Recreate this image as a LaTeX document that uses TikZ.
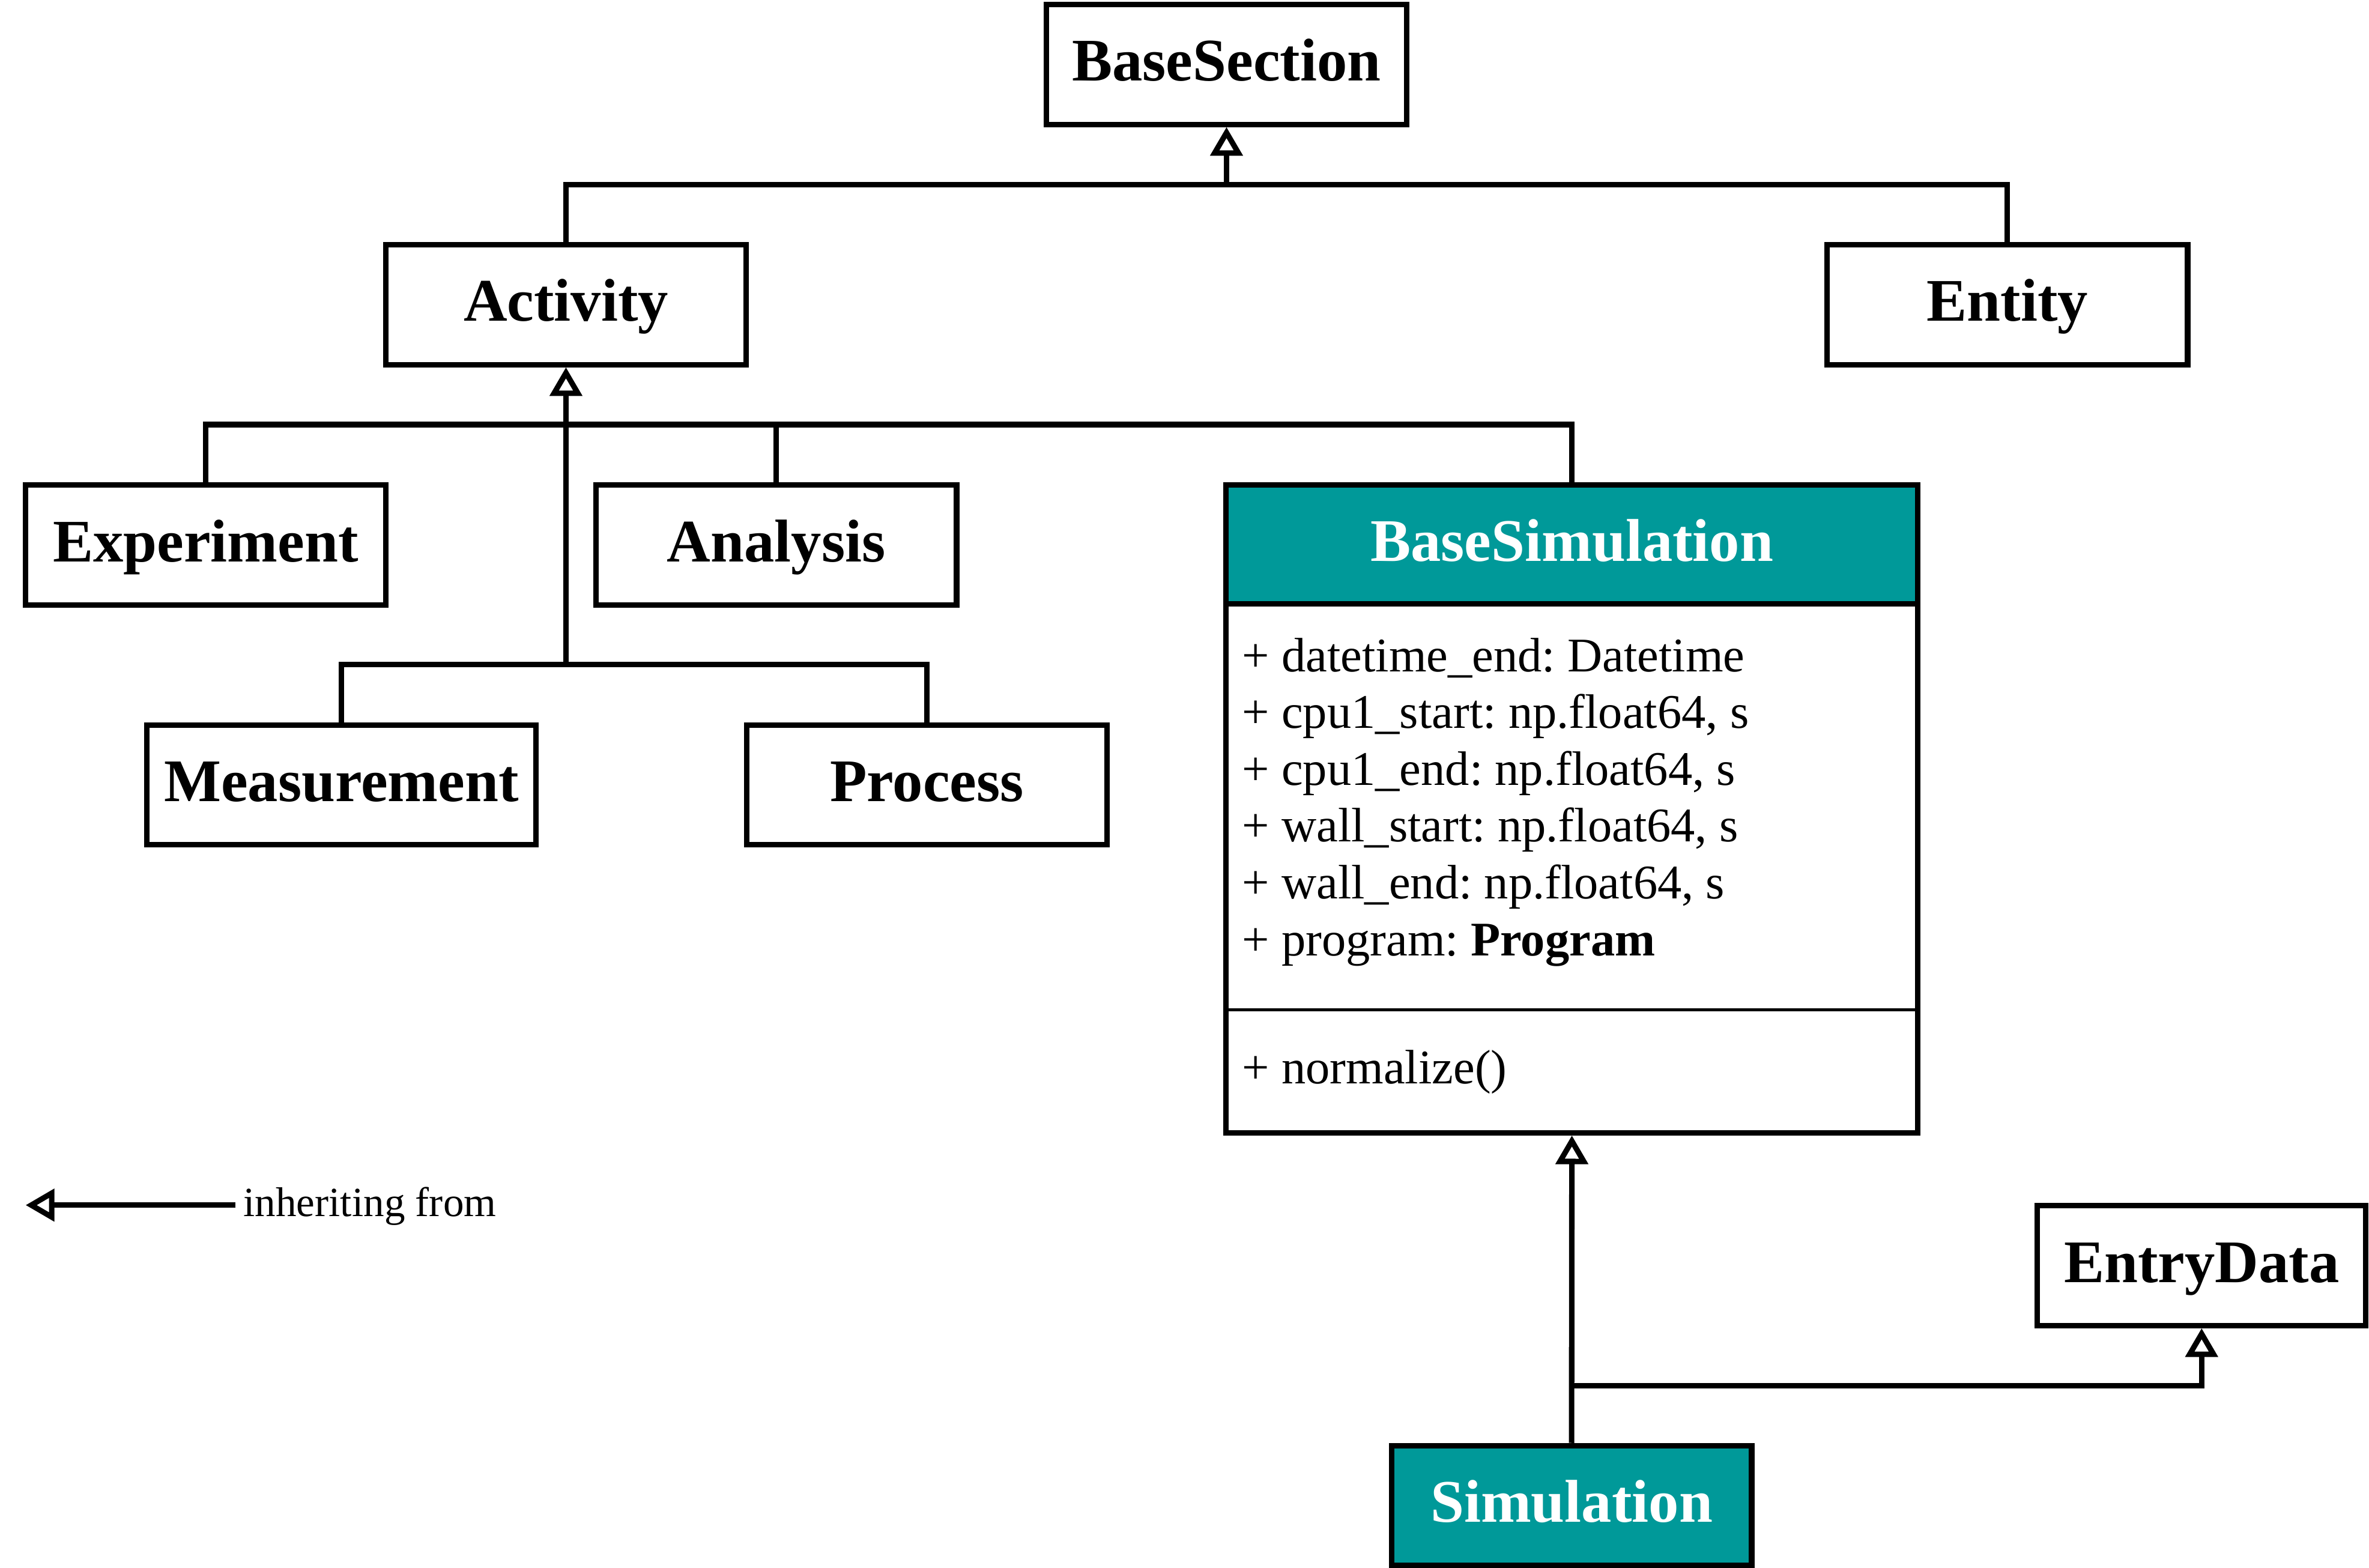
\documentclass[tikz,border=0pt]{standalone}
\usepackage{fontspec}
\setmainfont{Liberation Serif}
\usetikzlibrary{arrows.meta}
\definecolor{simteal}{RGB}{0,153,153}
\frenchspacing
\begin{document}
\begin{tikzpicture}[x=1pt,y=-1pt,
  classbox/.style={draw=black, line width=3.6pt, fill=white, minimum width=238.7pt,
    minimum height=79.4pt, inner sep=0pt, text height=30pt, text depth=8pt,
    font=\fontsize{40}{48}\selectfont\bfseries},
  tealbox/.style={classbox, fill=simteal, text=white},
  conn/.style={line width=3.6pt},
  inh/.style={conn, -{Triangle[open, length=19pt, width=21pt]}},
  attr/.style={anchor=base west, inner sep=0pt, font=\fontsize{32}{38}\selectfont},
  sepline/.style={line width=2pt},
  legendtext/.style={anchor=base west, inner sep=0pt, font=\fontsize{27.5}{33}\selectfont}
  ]
\useasboundingbox (0,0) rectangle (1568,1037.4);
\fill[white] (0,0) rectangle (1568,1037.4);

% class boxes
\node[classbox] (basesection) at (811.8,42.6) {BaseSection};
\node[classbox] (activity) at (374.6,201.6) {Activity};
\node[classbox] (entity) at (1328.6,201.6) {Entity};
\node[classbox] (experiment) at (136.1,360.8) {Experiment};
\node[classbox] (analysis) at (513.8,360.8) {Analysis};
\node[classbox, minimum width=257.3pt] (measurement) at (226,519.5) {Measurement};
\node[classbox] (process) at (613.5,519.5) {Process};
\node[classbox, minimum width=217.4pt] (entrydata) at (1457.2,837.6) {EntryData};
\node[tealbox, minimum width=238.4pt, minimum height=79pt] (simulation) at (1040.2,996.3) {Simulation};

% BaseSimulation class
\node[tealbox, minimum width=458pt, minimum height=78.8pt] (bsimhead) at (1040.4,360.4) {BaseSimulation};
\node[classbox, minimum width=458pt, minimum height=349.9pt] (bsimbody) at (1040.4,574.75) {};
\draw[sepline] ([yshift=83.1pt]bsimbody.south west) -- ([yshift=83.1pt]bsimbody.south east);

\node[attr] (a1) at (822,444.4) {+ datetime\_end: Datetime};
\node[attr] (a2) at (822,482.0) {+ cpu1\_start: np.float64, s};
\node[attr] (a3) at (822,519.6) {+ cpu1\_end: np.float64, s};
\node[attr] (a4) at (822,557.2) {+ wall\_start: np.float64, s};
\node[attr] (a5) at (822,594.8) {+ wall\_end: np.float64, s};
\node[attr] (a6) at (822,632.4) {+ program: \textbf{Program}};
\node[attr] (m1) at (822,717.4) {+ normalize()};

% junction points
\coordinate (j1) at (811.8,122.1);
\coordinate (j2) at (374.6,281);
\coordinate (j3) at (374.6,439.8);
\coordinate (j4) at (1040.4,917);

% connectors
\draw[conn] (activity.north) |- (j1) -| (entity.north);
\draw[inh] (j1) -- (basesection.south);

\draw[conn] (experiment.north) |- (j2) -| (bsimhead.north);
\draw[conn] (analysis.north) -- (analysis.north |- j2);

\draw[inh] (j3) -- (activity.south);
\draw[conn] (measurement.north) |- (j3) -| (process.north);

\draw[inh] (simulation.north) -- (bsimbody.south);
\draw[inh] (j4) -| (entrydata.south);

% legend
\coordinate (legtail) at (156,797.6);
\coordinate (legtip) at (17,797.6);
\draw[inh] (legtail) -- (legtip);
\node[legendtext] (legend) at (161,805) {inheriting from};
\end{tikzpicture}
\end{document}
